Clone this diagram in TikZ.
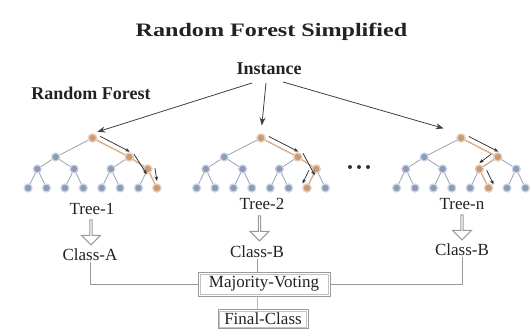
\documentclass[tikz,border=0pt]{standalone}
\usepackage{fontspec}
\setmainfont{Liberation Serif}
\usepackage{graphicx}
\usetikzlibrary{calc,arrows.meta,shapes.arrows}
\definecolor{nodeblue}{HTML}{8E9BB6}
\definecolor{halo}{HTML}{CDD4E3}
\definecolor{nodeor}{HTML}{C99A76}
\definecolor{haloor}{HTML}{EBCDB4}
\definecolor{edgeg}{HTML}{9AA3B5}
\definecolor{edgeo}{HTML}{D8B28E}
\definecolor{txt}{HTML}{222222}
\definecolor{conn}{HTML}{9A9A9A}
\tikzset{
  tn/.style={circle, fill=nodeblue, draw=halo, line width=1.2pt, minimum size=8pt, inner sep=0pt},
  hlnode/.style={fill=nodeor, draw=haloor, line width=1.2pt},
  te/.style={draw=edgeg, line width=0.8pt},
  he/.style={draw=edgeo, line width=1.3pt},
  pa/.style={-{Stealth[length=4.5pt,width=3.5pt]}, line width=0.7pt, black!85},
  ia/.style={-{Stealth[length=8pt,width=6pt]}, line width=0.8pt, black!75},
  lbl/.style={font=\fontsize{17}{19}\selectfont, text=txt, inner sep=1pt},
  blbl/.style={font=\bfseries\fontsize{18}{20}\selectfont, text=txt, inner sep=1pt},
  hollow/.style={single arrow, draw=conn, fill=white, line width=1pt, shape border rotate=270,
    minimum height=25pt, minimum width=19pt, single arrow head extend=4pt, inner sep=0pt},
  cl/.style={draw=conn, line width=1pt},
  boxd/.style={draw=conn, line width=0.9pt, text=txt,
    font=\fontsize{17}{19}\selectfont, inner sep=1pt},
  inner/.style={draw=conn!60, line width=0.6pt},
}
\newcommand\rftree[2]{%
  \foreach \id/\dx/\yy in {r/0/138, 1/-36.8/157, 2/36.8/157, 11/-55.2/169, 12/-18.4/169,
      21/18.4/169, 22/55.2/169, 111/-64.4/188, 112/-46/188, 121/-27.6/188, 122/-9.2/188,
      211/9.2/188, 212/27.6/188, 221/46/188, 222/64.4/188}
    {\node[tn] (#1-\id) at (#2+\dx,\yy) {};}
  \foreach \p/\c in {r/1,r/2,1/11,1/12,2/21,2/22,11/111,11/112,12/121,12/122,
      21/211,21/212,22/221,22/222}
    {\draw[te] (#1-\p) -- (#1-\c);}
}
\begin{document}
\begin{tikzpicture}[x=1pt,y=-1pt]
\useasboundingbox (0,0) rectangle (530,332);
\fill[white] (0,0) rectangle (530,332);

% titles
\node[font=\bfseries\fontsize{19}{22}\selectfont, text=txt] (title) at (271.5,32)
  {\scalebox{1.27}[1]{Random Forest Simplified}};
\node[blbl] (inst) at (269,69) {Instance};
\node[blbl] (rf) at (91,93) {Random Forest};

% trees
\rftree{t1}{92.5}
\rftree{t2}{261}
\rftree{tn}{461}

% highlighted paths
\draw[he] (t1-r) -- (t1-2) -- (t1-22) -- (t1-222);
\draw[he] (t2-r) -- (t2-2) -- (t2-22) -- (t2-221);
\draw[he] (tn-r) -- (tn-2) -- (tn-21) -- (tn-212);
\foreach \n in {t1-r,t1-2,t1-22,t1-222,t2-r,t2-2,t2-22,t2-221,tn-r,tn-2,tn-21,tn-212}
  {\path[hlnode] (\n.center) circle (4pt);}

% decision arrows
\draw[pa] ($(t1-r)!0.15!(t1-2)!5pt!90:(t1-2)$) -- ($(t1-r)!0.95!(t1-2)!5pt!90:(t1-2)$);
\draw[pa] ($(t1-2)!0.1!(t1-22)!5pt!90:(t1-22)$) -- ($(t1-2)!1.1!(t1-22)!5pt!90:(t1-22)$);
\draw[pa] ($(t1-22)!0.1!(t1-222)!7pt!90:(t1-222)$) -- ($(t1-22)!1!(t1-222)!7pt!90:(t1-222)$);

\draw[pa] ($(t2-r)!0.15!(t2-2)!5pt!90:(t2-2)$) -- ($(t2-r)!0.95!(t2-2)!5pt!90:(t2-2)$);
\draw[pa] ($(t2-2)!0.1!(t2-22)!6pt!90:(t2-22)$) -- ($(t2-2)!1.1!(t2-22)!6pt!90:(t2-22)$);
\draw[pa] ($(t2-22)!0.2!(t2-221)!6pt!-90:(t2-221)$) -- ($(t2-22)!0.9!(t2-221)!6pt!-90:(t2-221)$);

\draw[pa] ($(tn-r)!0.15!(tn-2)!5pt!90:(tn-2)$) -- ($(tn-r)!0.95!(tn-2)!5pt!90:(tn-2)$);
\draw[pa] ($(tn-2)!0.2!(tn-21)!6pt!-90:(tn-21)$) -- ($(tn-2)!1.0!(tn-21)!6pt!-90:(tn-21)$);
\draw[pa] ($(tn-21)!0.2!(tn-212)!6pt!90:(tn-212)$) -- ($(tn-21)!0.95!(tn-212)!6pt!90:(tn-212)$);

% instance arrows
\coordinate (s1) at ($(inst)+(-17,14)$);
\coordinate (s2) at ($(inst)+(-3,14)$);
\coordinate (s3) at ($(inst)+(14,13)$);
\draw[ia, shorten >=5pt] (s1) -- (t1-r.north);
\draw[ia, shorten >=8pt] (s2) -- (t2-r.north);
\draw[ia, shorten >=18pt] (s3) -- (tn-r.north);

% dots
\foreach \xx in {350,359,368} \fill[black!80] (\xx,167) circle (2pt);

% labels
\node[lbl] (tr1) at (92,209) {Tree-1};
\node[lbl] (tr2) at (262,204) {Tree-2};
\node[lbl] (trn) at (462,204) {Tree-n};
\node[lbl] (ca) at (90,255) {Class-A};
\node[lbl] (cb) at (257,252) {Class-B};
\node[lbl] (cn) at (462,250) {Class-B};

\node[hollow] (h1) at ($(tr1.south)!0.5!(ca.north)$) {};
\node[hollow] (h2) at ($(tr2.south)!0.5!(cb.north)$) {};
\node[hollow] (h3) at ($(trn.south)!0.5!(cn.north)$) {};

% voting
\node[boxd, minimum width=132pt, minimum height=24pt] (mv) at (264,284) {Majority-Voting};
\node[boxd, minimum width=90pt, minimum height=19pt] (fc) at (263,319) {Final-Class};
\draw[inner] ($(mv.north west)+(2.5,2.5)$) rectangle ($(mv.south east)+(-2.5,-2.5)$);
\draw[inner] ($(fc.north west)+(2,2)$) rectangle ($(fc.south east)+(-2,-2)$);
\draw[cl] (ca.south) |- (mv.west);
\draw[cl] (cn.south) |- (mv.east);
\draw[cl] (cb.south) -- (cb.south |- mv.north);
\draw[cl, draw=conn!70] (cb.south |- mv.south) -- (cb.south |- fc.north);
\end{tikzpicture}
\end{document}
